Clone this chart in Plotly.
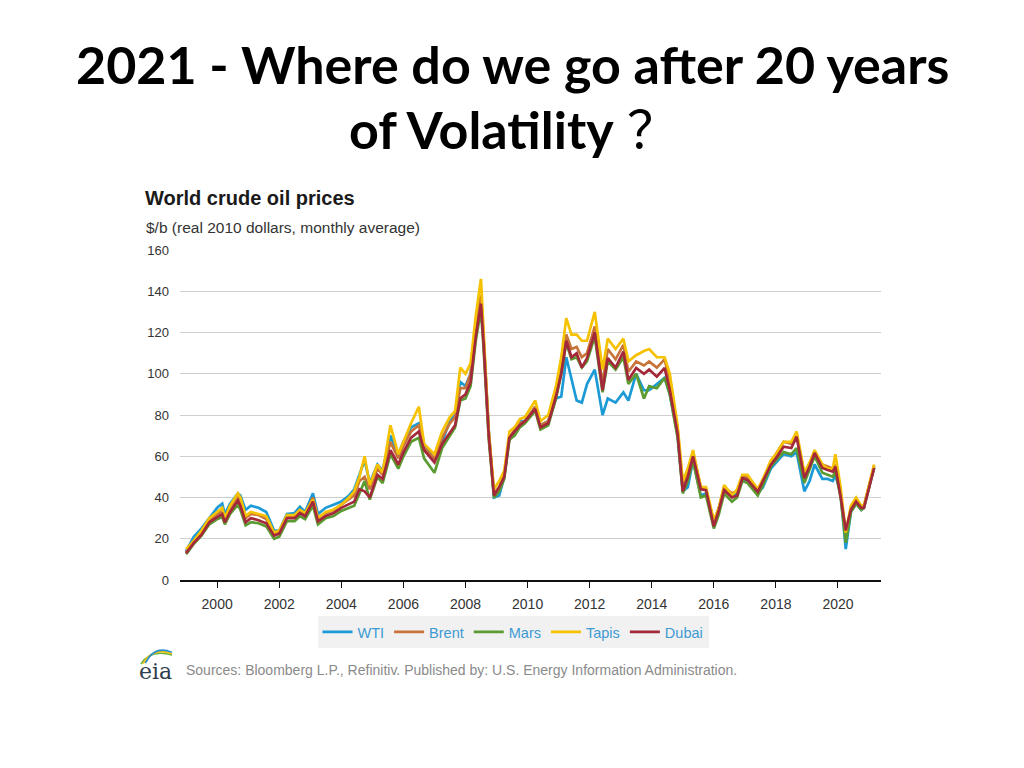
import plotly.graph_objects as go

W, H = 1024, 768

dates = [
    "1999-01", "1999-04", "1999-07", "1999-10", "2000-01", "2000-03", "2000-04", "2000-06",
    "2000-09", "2000-10", "2000-12", "2001-02", "2001-05", "2001-08", "2001-11", "2002-01",
    "2002-04", "2002-07", "2002-09", "2002-11", "2003-02", "2003-04", "2003-07", "2003-10",
    "2004-01", "2004-04", "2004-06", "2004-08", "2004-10", "2004-12", "2005-03", "2005-05",
    "2005-08", "2005-11", "2006-01", "2006-04", "2006-07", "2006-09", "2007-01", "2007-04",
    "2007-07", "2007-09", "2007-11", "2008-01", "2008-03", "2008-05", "2008-07", "2008-08",
    "2008-10", "2008-12", "2009-02", "2009-04", "2009-06", "2009-08", "2009-10", "2009-12",
    "2010-04", "2010-06", "2010-09", "2010-12", "2011-02", "2011-04", "2011-06", "2011-08",
    "2011-10", "2011-12", "2012-03", "2012-06", "2012-08", "2012-11", "2013-02", "2013-04",
    "2013-07", "2013-10", "2013-12", "2014-03", "2014-06", "2014-08", "2014-11", "2015-01",
    "2015-03", "2015-05", "2015-08", "2015-10", "2016-01", "2016-03", "2016-05", "2016-08",
    "2016-10", "2016-12", "2017-02", "2017-06", "2017-08", "2017-11", "2018-01", "2018-04",
    "2018-07", "2018-09", "2018-12", "2019-02", "2019-04", "2019-07", "2019-09", "2019-11",
    "2019-12", "2020-02", "2020-04", "2020-06", "2020-08", "2020-10", "2020-11", "2021-03",
]

wti = [
    14, 21, 25, 30, 35, 37, 32, 37,
    42, 41, 34, 36, 35, 33, 24, 24,
    32, 32.5, 35.5, 33, 42, 32, 35, 36.5,
    38, 41, 44, 51, 58, 47, 56, 53,
    70, 61, 67, 74, 76, 66, 58, 67,
    77, 80, 96, 94, 100, 124, 136, 117,
    72, 40, 41, 50, 69, 72, 77, 77,
    84, 75, 77, 88, 89, 108, 97, 87,
    86, 95, 102, 80, 88, 86, 91, 87,
    100, 92, 92, 95, 98, 90, 70, 43,
    45, 58, 41, 42, 28, 35, 44, 41,
    42, 48, 48, 42, 45, 54, 57, 61,
    60, 62, 43, 48, 56, 49, 49, 48,
    51, 42, 15, 33, 37, 34, 35, 55,
]

brent = [
    13.5, 19, 23, 29, 32, 33.5, 30, 35,
    40, 38.5, 30, 32, 31.5, 29.5, 22.5, 23.5,
    31, 31, 34, 32, 40, 30, 32.5, 34,
    36.5, 39, 41, 48, 50, 44, 54, 51,
    67, 59, 65, 72, 75, 64, 59, 69,
    76, 79, 93, 93, 100, 122, 138, 117,
    72, 42, 45, 51, 69, 73, 76, 77,
    84, 75, 77, 91, 104, 119, 112, 113,
    108, 110, 123, 95, 112, 107, 114, 101,
    106, 104, 106, 103, 107, 96, 73, 45,
    52, 62, 45, 44, 28, 35, 45, 42,
    43, 50, 50, 44, 48, 57, 61, 67,
    66, 71, 51, 57, 62, 56, 55, 54,
    56, 42, 22, 35, 38.5, 36, 36, 55.5,
]

mars = [
    12.5, 17.5, 21.5, 27, 29.5, 30.5, 27, 32,
    36.5, 34, 26.5, 28, 27.5, 26, 20, 21,
    28.5, 28.5, 31, 29.5, 36, 27, 30, 31,
    33.5, 35, 36, 42, 48, 39, 50, 47,
    61, 54, 60, 67, 69, 59, 52, 64,
    70, 74, 87, 88, 94, 116, 131, 112,
    68, 40, 43, 49, 68, 70, 74, 76,
    82, 73, 75, 88, 100, 115, 107, 108,
    103, 106, 118, 91, 106, 102, 108, 95,
    100, 88, 94, 93, 98, 90, 69, 42,
    48, 58, 40, 41, 25, 32, 42, 38,
    40, 48, 47, 41, 46, 55, 58, 62,
    61, 64, 47, 54, 60, 52, 51, 50,
    53, 40, 18, 33, 37, 34, 35, 54.5,
]

tapis = [
    15, 19, 24, 30, 33, 35, 30, 36,
    42, 40, 31, 33, 32, 31, 23, 24,
    31.5, 31.5, 34, 32.5, 39, 30, 33, 34,
    36.5, 40, 43, 50, 60, 46, 56, 52,
    75, 61, 67, 76, 84, 66, 61, 72,
    79, 82, 103, 100, 105, 128, 146, 123,
    72, 44, 48, 53, 72, 74, 78, 79,
    87, 77, 80, 94, 108, 127, 119, 119,
    116, 116, 130, 102, 117, 112, 117, 106,
    109, 111, 112, 108, 108, 100, 75, 48,
    54, 63, 45, 45, 29, 35, 46, 41,
    44, 51, 51, 44, 49, 58, 61, 67,
    67, 72, 52, 57, 63, 56, 54, 54,
    61, 45, 23, 36, 40, 36, 36, 56,
]

dubai = [
    13, 18, 22, 28, 30.5, 32, 28, 33,
    38.5, 36, 28, 30, 29, 27.5, 21.5, 22.5,
    30, 30, 32.5, 31, 38, 28.5, 31, 32.5,
    35, 37, 38, 44, 43, 40, 51, 49,
    63, 56, 62, 69, 72, 63, 57, 66,
    71, 75, 88, 90, 96, 118, 134, 115,
    70, 41, 45, 50, 69, 72, 75, 77,
    83, 74, 76, 89, 100, 116, 108, 110,
    103, 107.6, 120, 92, 107.6, 103, 110.7, 97,
    102.8, 100, 102, 98.6, 102.8, 92, 71, 43,
    50, 60, 44, 43.6, 26, 34, 43.6, 40,
    41, 49.4, 48.5, 42.8, 47.7, 55.8, 59, 64.6,
    64, 69.5, 49.4, 55, 61.6, 54.3, 53.3, 52.5,
    55, 40.4, 24, 34, 38, 35, 35, 54.3,
]

series = [
    ("WTI", wti, "#1b9ad6"),
    ("Brent", brent, "#c8733a"),
    ("Mars", mars, "#5b9b31"),
    ("Tapis", tapis, "#f6c100"),
    ("Dubai", dubai, "#a3283a"),
]

fig = go.Figure()
for name, vals, col in series:
    fig.add_trace(go.Scatter(
        x=dates, y=vals, name=name, mode="lines",
        line=dict(color=col, width=2.7),
    ))

# the page body has a default 8px margin; compensate so screen pixels match
OFF = 8

def px_x(p):
    return (p - OFF) / W

def px_y(p):
    return 1 - (p - OFF) / H

left_px, right_px = 180, 881
bottom_px, top_px = 580, 250

fig.update_layout(
    width=W, height=H,
    margin=dict(l=0, r=0, t=0, b=0, autoexpand=False),
    paper_bgcolor="white", plot_bgcolor="white",
    font=dict(family="Liberation Sans, Arial, sans-serif", color="#333333"),
    showlegend=True,
    legend=dict(
        orientation="h", x=px_x(513), xanchor="center", y=px_y(632), yanchor="middle",
        bgcolor="#f1f1f1", font=dict(size=14.5, color="#3d9ad3"),
        itemwidth=30, tracegroupgap=0,
    ),
    xaxis=dict(
        domain=[px_x(left_px), px_x(right_px)],
        type="date", automargin=False,
        range=["1998-10-21", "2021-05-21"],
        tick0="2000-01-01", dtick="M24", tickformat="%Y",
        showline=True, linecolor="#111111", linewidth=2,
        ticks="outside", ticklen=6, tickcolor="#111111", tickwidth=1,
        showgrid=False, zeroline=False,
        tickfont=dict(size=14, color="#333333"),
        ticklabelstandoff=4,
    ),
    yaxis=dict(
        domain=[px_y(bottom_px), px_y(top_px)],
        automargin=False,
        range=[0, 160], dtick=20,
        showgrid=True, gridcolor="#cfcfcf", gridwidth=1.3,
        zeroline=False, showline=False, ticks="",
        tickfont=dict(size=13, color="#333333"),
        ticklabelstandoff=10,
    ),
)

title_font = "Lato, Open Sans, sans-serif"
fig.add_annotation(
    text="<b>2021 - Where do we go after 20 years</b>",
    x=px_x(512), y=px_y(64), xref="paper", yref="paper", xanchor="center", yanchor="middle",
    showarrow=False, font=dict(family=title_font, size=52, color="#000000"),
)
fig.add_annotation(
    text="<b>of Volatility</b> <span style=\"font-family:'Noto Sans CJK SC'\">？</span>",
    x=px_x(514), y=px_y(127), xref="paper", yref="paper", xanchor="center", yanchor="middle",
    showarrow=False, font=dict(family=title_font, size=52, color="#000000"),
)
fig.add_annotation(
    text="<b>World crude oil prices</b>",
    x=px_x(143), y=px_y(198), xref="paper", yref="paper", xanchor="left", yanchor="middle",
    showarrow=False, font=dict(size=20, color="#1a1a1a"),
)
fig.add_annotation(
    text="$/b (real 2010 dollars, monthly average)",
    x=px_x(144), y=px_y(227), xref="paper", yref="paper", xanchor="left", yanchor="middle",
    showarrow=False, font=dict(size=15.5, color="#333333"),
)
fig.add_annotation(
    text="Sources: Bloomberg L.P., Refinitiv. Published by: U.S. Energy Information Administration.",
    x=px_x(184), y=px_y(670), xref="paper", yref="paper", xanchor="left", yanchor="middle",
    showarrow=False, font=dict(size=14, color="#8a8a8a"),
)
fig.add_annotation(
    text="eia",
    x=px_x(155), y=px_y(671), xref="paper", yref="paper", xanchor="center", yanchor="middle",
    showarrow=False, font=dict(family="DejaVu Serif, serif", size=22, color="#2f3e4e"),
)
arc_colors = ["#6bb33f", "#f2c200", "#2a8fd0"]
for i, c in enumerate(arc_colors):
    off = i * 2.2
    x0, y0 = px_x(141 + off), px_y(664 - off * 0.2)
    xc, yc = px_x(150 + off), px_y(649 - off)
    x1, y1 = px_x(172), px_y(655 - off * 0.6)
    fig.add_shape(
        type="path", xref="paper", yref="paper",
        path=f"M {x0} {y0} Q {xc} {yc} {x1} {y1}",
        line=dict(color=c, width=1.6),
    )

fig.write_html("out.html")
